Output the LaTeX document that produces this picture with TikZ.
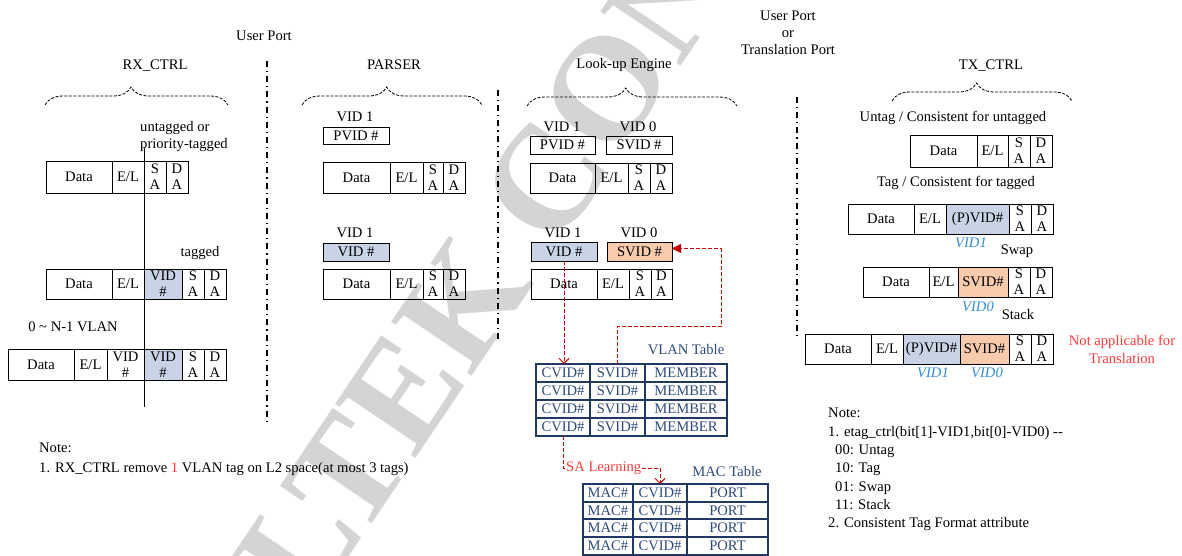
\documentclass[tikz,border=0pt]{standalone}
\usepackage{fontspec}
\setmainfont{Liberation Serif}
\usetikzlibrary{arrows.meta,decorations.pathreplacing,calc}
\definecolor{vblue}{RGB}{200,212,230}
\definecolor{vorange}{RGB}{248,203,173}
\definecolor{tnavy}{RGB}{31,56,100}
\definecolor{ttext}{RGB}{46,74,125}
\definecolor{ired}{RGB}{255,59,59}
\definecolor{dred}{RGB}{200,0,0}
\definecolor{vidblue}{RGB}{50,140,220}
\newcommand\fs{\fontsize{14.6}{17}\selectfont}
\newcommand\cellfont{\fontsize{14.6}{16}\selectfont}
\newcommand\cbx[7][]{\node[cell,#1,minimum width={(#5-#3)*1pt},minimum height={(#6-#4)*1pt}] (#2) at ({(#3+#5)/2},{(#4+#6)/2}) {#7};}
\begin{document}
\begin{tikzpicture}[x=1pt,y=-1pt,
  cell/.style={draw, line width=0.9pt, inner sep=0pt, outer sep=0pt, align=center, font=\cellfont},
  tcell/.style={cell, draw=tnavy, line width=1.4pt, text=ttext},
  blu/.style={fill=vblue},
  orng/.style={fill=vorange},
  lbl/.style={inner sep=0pt, font=\fs},
  vidl/.style={inner sep=0pt, text=vidblue, font=\fs\itshape},
  port/.style={line width=1.2pt, dash pattern=on 6pt off 4pt on 1.2pt off 4pt},
  brc/.style={decorate, decoration={brace, amplitude=18pt, aspect=0.47}, dash pattern=on 3pt off 1.5pt, line width=0.8pt},
  rdash/.style={draw=dred, line width=0.9pt, dash pattern=on 4pt off 2pt},
  wm/.style={inner sep=0pt, rotate=56, text=black!17, font=\fontsize{148}{148}\selectfont\bfseries}
]
\useasboundingbox (0,0) rectangle (1182,556);
% watermark
\begin{scope}
\clip (0,0) rectangle (1182,556);
\node[wm] (wmark) at (628,58) {REALTEK CONFIDENTIAL};
\end{scope}

% ---------------- RX_CTRL ----------------
\node[lbl] (up1) at (264,36) {User Port};
\node[lbl] (rxt) at (155,66) {RX\_CTRL};
\coordinate (b1l) at (45,105); \coordinate (b1r) at (228,105);
\draw[brc] (b1l) -- (b1r);
\node[lbl, anchor=west, align=left] (unt) at (140,137) {untagged or\\priority-tagged};
\node[lbl] (tgd) at (200,253) {tagged};
\node[lbl] (nvl) at (73,327) {0 \textasciitilde{} N-1 VLAN};

\cbx{ra1}{46}{161}{112}{193}{Data}
\cbx{ra2}{112}{161}{144}{193}{E/L}
\cbx{ra3}{144}{161}{166}{193}{S\\A}
\cbx{ra4}{166}{161}{188}{193}{D\\A}

\cbx{rb1}{46}{269}{112}{299}{Data}
\cbx{rb2}{112}{269}{144}{299}{E/L}
\cbx[blu]{rb3}{144}{269}{182}{299}{VID\\\#}
\cbx{rb4}{182}{269}{204}{299}{S\\A}
\cbx{rb5}{204}{269}{226}{299}{D\\A}

\cbx{rc1}{8}{349}{74}{380}{Data}
\cbx{rc2}{74}{349}{107}{380}{E/L}
\cbx{rc3}{107}{349}{144}{380}{VID\\\#}
\cbx[blu]{rc4}{144}{349}{182}{380}{VID\\\#}
\cbx{rc5}{182}{349}{204}{380}{S\\A}
\cbx{rc6}{204}{349}{226}{380}{D\\A}

\coordinate (vlt) at (144,148); \coordinate (vlb) at (144,407);
\draw[line width=0.9pt] (vlt) -- (vlb);

\coordinate (p1t) at (267,61); \coordinate (p1b) at (267,422);
\draw[port] (p1t) -- (p1b);

\node[lbl, anchor=north west, align=left, font=\fontsize{14.6}{20}\selectfont] (note1) at (39,443)
 {Note:\\1. RX\_CTRL remove \textcolor{ired}{1} VLAN tag on L2 space(at most 3 tags)};

% ---------------- PARSER ----------------
\node[lbl] (pst) at (394,65) {PARSER};
\coordinate (b2l) at (302,105); \coordinate (b2r) at (482,105);
\draw[brc] (b2l) -- (b2r);
\node[lbl] (pv1l) at (355,117) {VID 1};
\cbx{pv1}{323}{127}{389}{144}{PVID \#}
\cbx{pa1}{323}{162}{390}{193}{Data}
\cbx{pa2}{390}{162}{423}{193}{E/L}
\cbx{pa3}{423}{162}{443}{193}{S\\A}
\cbx{pa4}{443}{162}{465}{193}{D\\A}
\node[lbl] (pv2l) at (355,233) {VID 1};
\cbx[blu]{pv2}{323}{243}{389}{261}{VID \#}
\cbx{pb1}{323}{269}{390}{299}{Data}
\cbx{pb2}{390}{269}{423}{299}{E/L}
\cbx{pb3}{423}{269}{443}{299}{S\\A}
\cbx{pb4}{443}{269}{465}{299}{D\\A}

\coordinate (p2t) at (498,90); \coordinate (p2b) at (498,339);
\draw[port] (p2t) -- (p2b);

% ---------------- Look-up Engine ----------------
\node[lbl] (lut) at (624,65) {Look-up Engine};
\coordinate (b3l) at (527,106); \coordinate (b3r) at (737,106);
\draw[brc] (b3l) -- (b3r);
\node[lbl] (lv1l) at (562,127) {VID 1};
\node[lbl] (lv0l) at (638,127) {VID 0};
\cbx{lp}{530}{136}{595}{154}{PVID \#}
\cbx{lsv}{606}{136}{672}{154}{SVID \#}
\cbx{la1}{530}{163}{595}{193}{Data}
\cbx{la2}{595}{163}{628}{193}{E/L}
\cbx{la3}{628}{163}{650}{193}{S\\A}
\cbx{la4}{650}{163}{672}{193}{D\\A}
\node[lbl] (lv1m) at (563,233) {VID 1};
\node[lbl] (lv0m) at (639,233) {VID 0};
\cbx[blu]{lb}{531}{242}{597}{261}{VID \#}
\cbx[orng]{ls}{607}{242}{672}{261}{SVID \#}
\cbx{lr1}{531}{269}{597}{299}{Data}
\cbx{lr2}{597}{269}{629}{299}{E/L}
\cbx{lr3}{629}{269}{651}{299}{S\\A}
\cbx{lr4}{651}{269}{672}{299}{D\\A}

% VLAN table
\node[lbl, text=ttext] (vtl) at (686,350) {VLAN Table};
\foreach \i/\ya/\yb in {1/364/382,2/382/400,3/400/418,4/418/436}{
  \cbx[tcell]{vc\i}{536}{\ya}{590}{\yb}{CVID\#}
  \cbx[tcell]{vs\i}{590}{\ya}{645}{\yb}{SVID\#}
  \cbx[tcell]{vm\i}{645}{\ya}{727}{\yb}{MEMBER}
}
% MAC table
\node[lbl, text=ttext] (mtl) at (727,472) {MAC Table};
\foreach \i/\ya/\yb in {1/484/502,2/502/519,3/519/537,4/537/555}{
  \cbx[tcell]{mm\i}{583}{\ya}{633}{\yb}{MAC\#}
  \cbx[tcell]{mc\i}{633}{\ya}{687}{\yb}{CVID\#}
  \cbx[tcell]{mp\i}{687}{\ya}{768}{\yb}{PORT}
}
\node[lbl, text=ired, anchor=west, inner sep=1pt] (sa) at (565,468) {SA Learning};

% red connectors
\coordinate (r1) at (721,326);
\draw[rdash, -{Straight Barb[length=5pt,width=10pt]}] (lb.south) -- (lb.south |- vc1.north);
\draw[rdash, -{Triangle[length=9pt,width=9pt]}] (vs1.north) |- (r1) |- ([yshift=3pt]ls.east);
\draw[rdash] (vc4.south) |- (sa.west);
\draw[rdash, -{Straight Barb[length=5pt,width=10pt]}] (sa.east) -| (mc1.north);

% ---------------- middle port ----------------
\node[lbl, align=center] (upt) at (788,33) {User Port\\or\\Translation Port};
\coordinate (p3t) at (797,97); \coordinate (p3b) at (797,337);
\draw[port] (p3t) -- (p3b);

% ---------------- TX_CTRL ----------------
\node[lbl] (txt) at (991,66) {TX\_CTRL};
\coordinate (b4l) at (892,101); \coordinate (b4r) at (1072,101);
\draw[brc] (b4l) -- (b4r);
\node[lbl] (unc) at (953,118) {Untag / Consistent for untagged};
\cbx{ta1}{910}{135}{977}{167}{Data}
\cbx{ta2}{977}{135}{1008}{167}{E/L}
\cbx{ta3}{1008}{135}{1030}{167}{S\\A}
\cbx{ta4}{1030}{135}{1052}{167}{D\\A}
\node[lbl] (tgc) at (956,183) {Tag / Consistent for tagged};
\cbx{tb1}{848}{204}{914}{234}{Data}
\cbx{tb2}{914}{204}{946}{234}{E/L}
\cbx[blu]{tb3}{946}{204}{1009}{234}{(P)VID\#}
\cbx{tb4}{1009}{204}{1031}{234}{S\\A}
\cbx{tb5}{1031}{204}{1053}{234}{D\\A}
\node[vidl] (tbv) at (971,243) {VID1};
\node[lbl] (swp) at (1017,251) {Swap};
\cbx{tc1}{863}{267}{929}{297}{Data}
\cbx{tc2}{929}{267}{958}{297}{E/L}
\cbx[orng]{tc3}{958}{267}{1008}{297}{SVID\#}
\cbx{tc4}{1008}{267}{1030}{297}{S\\A}
\cbx{tc5}{1030}{267}{1052}{297}{D\\A}
\node[vidl] (tcv) at (978,307) {VID0};
\node[lbl] (stk) at (1018,315) {Stack};
\cbx{td1}{805}{334}{871}{364}{Data}
\cbx{td2}{871}{334}{903}{364}{E/L}
\cbx[blu]{td3}{903}{334}{960}{364}{(P)VID\#}
\cbx[orng]{td4}{960}{334}{1009}{364}{SVID\#}
\cbx{td5}{1009}{334}{1031}{364}{S\\A}
\cbx{td6}{1031}{334}{1053}{364}{D\\A}
\node[vidl] (tdv1) at (933,373) {VID1};
\node[vidl] (tdv0) at (987,373) {VID0};
\node[lbl, text=ired, align=center, font=\fontsize{14.6}{18}\selectfont] (nap) at (1122,349) {Not applicable for\\Translation};

\node[lbl, anchor=north west, align=left, font=\fontsize{14.6}{18.33}\selectfont] (note2) at (828,408)
 {Note:\\1. etag\_ctrl(bit[1]-VID1,bit[0]-VID0) -{}-\\\hspace*{7pt}00: Untag\\\hspace*{7pt}10: Tag\\\hspace*{7pt}01: Swap\\\hspace*{7pt}11: Stack\\2. Consistent Tag Format attribute};
\end{tikzpicture}
\end{document}
